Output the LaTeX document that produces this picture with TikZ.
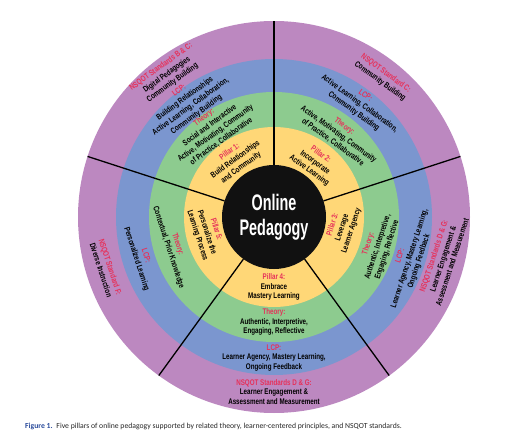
\documentclass[tikz,border=0pt]{standalone}
\usepackage{fontspec}
\newfontfamily\cond[FakeStretch=0.76]{Liberation Sans}
\newfontfamily\condmax[FakeStretch=0.64]{Liberation Sans}
\newfontfamily\capfont{Carlito}
\definecolor{viola}{HTML}{BC88C0}
\definecolor{blu}{HTML}{7B96CF}
\definecolor{verde}{HTML}{8DCB8F}
\definecolor{giallo}{HTML}{FFD777}
\definecolor{nero}{HTML}{111111}
\definecolor{rosso}{HTML}{E6315A}
\definecolor{bluscuro}{HTML}{2B4C9C}
\newcommand\rosso[1]{\textcolor{rosso}{#1}}
\begin{document}
\begin{tikzpicture}[x=1pt, y=1pt,
	raggio/.style={line width=1.3pt, black},
	etich/.style={font=\cond\bfseries\fontsize{8.2}{9.8}\selectfont, align=center, inner sep=0pt, text=black},
	centrale/.style={font=\condmax\bfseries\fontsize{22.5}{24.5}\selectfont, align=center, text=white, inner sep=0pt}]
	
	\useasboundingbox (0,0) rectangle (514,437);
	\coordinate (O) at (274,220);
	
	\def\rC{52}   %% cerchio nero
	\def\rP{90}   %% pilastri
	\def\rT{125}  %% teoria
	\def\rL{158}  %% LCP
	\def\rN{196}  %% NSQOT
	
	%% --- anelli ---
	\fill[viola] (O) circle (\rN);
	\fill[blu] (O) circle (\rL);
	\fill[verde] (O) circle (\rT);
	\fill[giallo] (O) circle (\rP);
	
	%% --- divisori tra i settori ---
	\foreach \a in {90,18,-54,-126,162}
		\draw[raggio, shift={(O)}] (\a:\rC) -- (\a:\rN);
	
	\fill[nero] (O) circle (\rC);
	\node[centrale] (centro) at (O) {Online\\Pedagogy};
	
	\begin{scope}[shift={(O)}]
		%% --- settore 1 ---
		\node[etich, rotate=36] (p1) at (124:69) {\rosso{Pillar 1:}\\Build Relationships\\and Community};
		\node[etich, rotate=36] (t1) at (125:107) {\rosso{Theory:}\\Social and Interactive\\Active, Motivating, Community\\of Practice, Collaborative};
		\node[etich, rotate=36] (l1) at (127:143) {\rosso{LCP:}\\Building Relationships\\Active Learning, Collaboration,\\Community Building};
		\node[etich, rotate=36] (n1) at (127:178) {\rosso{NSQOT Standards B \& C:}\\Digital Pedagogies\\Community Building};
		
		%% --- settore 2 ---
		\node[etich, rotate=-36] (p2) at (53:68) {\rosso{Pillar 2:}\\Incorporate\\Active Learning};
		\node[etich, rotate=-36] (t2) at (52:105) {\rosso{Theory:}\\Active, Motivating, Community\\of Practice, Collaborative};
		\node[etich, rotate=-36] (l2) at (53:142) {\rosso{LCP:}\\Active Learning, Collaboration,\\Community Building};
		\node[etich, rotate=-36] (n2) at (52:177) {\rosso{NSQOT Standard C:}\\Community Building};
		
		%% --- settore 3 ---
		\node[etich, rotate=72] (p3) at (-9:69) {\rosso{Pillar 3:}\\Leverage\\Learner Agency};
		\node[etich, rotate=72] (t3) at (-16:108) {\rosso{Theory:}\\Authentic, Interpretive,\\Engaging, Reflective};
		\node[etich, rotate=72] (l3) at (-17:142) {\rosso{LCP:}\\Learner Agency, Mastery Learning,\\Ongoing Feedback};
		\node[etich, rotate=72] (n3) at (-14:174) {\rosso{NSQOT Standards D \& G:}\\Learner Engagement \&\\Assessment and Measurement};
		
		%% --- settore 4 ---
		\node[etich] (p4) at (-90:70) {\rosso{Pillar 4:}\\Embrace\\Mastery Learning};
		\node[etich] (t4) at (-90:105) {\rosso{Theory:}\\Authentic, Interpretive,\\Engaging, Reflective};
		\node[etich] (l4) at (-90:141) {\rosso{LCP:}\\Learner Agency, Mastery Learning,\\Ongoing Feedback};
		\node[etich] (n4) at (-90:175) {\rosso{NSQOT Standards D \& G:}\\Learner Engagement \&\\Assessment and Measurement};
		
		%% --- settore 5 ---
		\node[etich, rotate=-72] (p5) at (193:69) {\rosso{Pillar 5:}\\Personalize the\\Learning Process};
		\node[etich, rotate=-72] (t5) at (196:105) {\rosso{Theory:}\\Contextual, Prior Knowledge};
		\node[etich, rotate=-72] (l5) at (197:139) {\rosso{LCP:}\\Personalized Learning};
		\node[etich, rotate=-72] (n5) at (197:176) {\rosso{NSQOT Standard F:}\\Diverse Instruction};
	\end{scope}
	
	%% --- didascalia ---
	\node[anchor=west, inner sep=0pt, font=\capfont\fontsize{7.7}{9}\selectfont, text=black!85] (didascalia) at (25,11)
		{\textcolor{bluscuro}{\bfseries Figure 1.}\enspace Five pillars of online pedagogy supported by related theory, learner-centered principles, and NSQOT standards.};
	
\end{tikzpicture}
\end{document}
